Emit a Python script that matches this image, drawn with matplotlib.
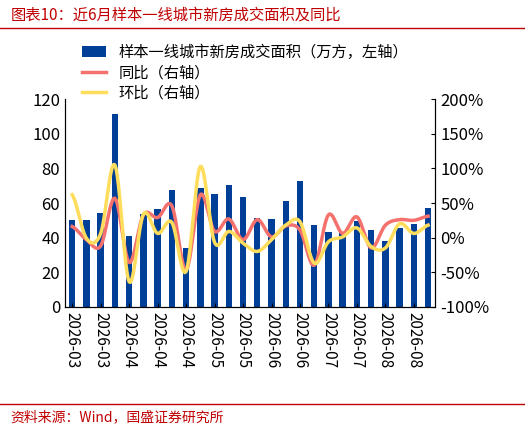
import numpy as np
import matplotlib
matplotlib.use("Agg")
import matplotlib.pyplot as plt

plt.rcParams['font.family'] = ['Noto Sans CJK SC', 'DejaVu Sans']

area = [50.3, 50.3, 54.5, 111.4, 41, 53.6, 56.5, 67.3, 34.2, 68.9, 65.4, 70.6, 63.6,
        51.5, 50.9, 60.9, 72.9, 47.4, 43.3, 43.5, 49.5, 44.5, 38.1, 45.8, 48, 57]
yoy = [16, -3, -12, 57, -36, 33, 29, 46, -47, 62, 9, 27, -3, 26, 1, 17, 11, -40, 33, 6,
       30, -15, 18, 26, 25, 31]
mom = [62, -1, 6, 105, -64, 34, 6, 22, -49, 103, -7, 9, -8, -20, -3, 18, 23, -37, -6, 1,
       14, -13, -15, 20, 6, 18]
tick_labels = ["2026-03", "2026-03", "2026-04", "2026-04", "2026-04", "2026-05", "2026-05",
               "2026-06", "2026-06", "2026-07", "2026-07", "2026-08", "2026-08"]

def smooth(y, n=12):
    y = np.asarray(y, float)
    p = np.concatenate([[y[0]], y, [y[-1]]])
    xs, ys = [], []
    for i in range(len(y) - 1):
        p0, p1, p2, p3 = p[i], p[i+1], p[i+2], p[i+3]
        t = np.linspace(0, 1, n, endpoint=False)
        ys.append(0.5*((2*p1) + (-p0+p2)*t + (2*p0-5*p1+4*p2-p3)*t**2 + (-p0+3*p1-3*p2+p3)*t**3))
        xs.append(i + t)
    xs.append([len(y)-1]); ys.append([y[-1]])
    return np.concatenate(xs), np.concatenate(ys)

fig = plt.figure(figsize=(5.25, 4.32), dpi=100)
ax = fig.add_axes([0.124, 0.29, 0.705, 0.48])
x = np.arange(len(area))
bars = ax.bar(x, area, width=0.45, color='#003F98', label='样本一线城市新房成交面积（万方，左轴）')
ax.set_ylim(0, 120)
ax.set_yticks(range(0, 121, 20))
ax.set_xlim(-0.5, len(area) - 0.5)
ax.set_xticks(x[::2])
ax.set_xticklabels(tick_labels, rotation=-90, fontsize=11)
ax.tick_params(axis='y', labelsize=12, length=0)
ax.tick_params(axis='x', length=3, direction='in')
for s in ['top']:
    ax.spines[s].set_visible(False)
ax2 = ax.twinx()
ax2.set_ylim(-100, 200)
ax2.set_yticks(range(-100, 201, 50))
ax2.set_yticklabels([f"{v}%" for v in range(-100, 201, 50)], fontsize=12)
ax2.tick_params(axis='y', direction='in', length=3)
ax2.spines['top'].set_visible(False)
xs, ys = smooth(yoy)
l1, = ax2.plot(xs, ys, color='#F4716E', lw=2.5, label='同比（右轴）')
xs, ys = smooth(mom)
l2, = ax2.plot(xs, ys, color='#FFDD5C', lw=2.5, label='环比（右轴）')
fig.legend(handles=[bars, l1, l2], loc='upper left', bbox_to_anchor=(0.13, 0.93),
           frameon=False, fontsize=11, handlelength=1.6, labelspacing=0.2)
fig.text(0.02, 0.965, '图表10：近6月样本一线城市新房成交面积及同比', color='#C00000',
         fontsize=11, style='italic', va='center')
fig.add_artist(plt.Line2D([0.0, 1.0], [0.935, 0.935], color='#C00000', lw=1))
fig.add_artist(plt.Line2D([0.0, 1.0], [0.065, 0.065], color='#C00000', lw=1))
fig.text(0.02, 0.035, '资料来源：Wind，国盛证券研究所', color='#C00000',
         fontsize=10, style='italic', va='center')
fig.savefig('out.png')
